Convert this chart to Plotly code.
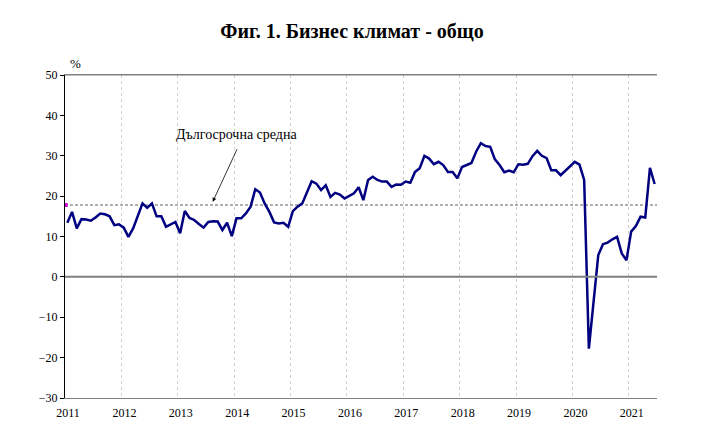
import plotly.graph_objects as go

start_year = 2011
values = [
    13.4, 16.1, 12.0, 14.3, 14.2, 13.9, 14.7, 15.7, 15.5, 15.0, 12.8, 13.0,
    12.2, 9.9, 12.0, 15.3, 18.2, 17.1, 18.2, 15.0, 15.0, 12.4, 13.0, 13.6,
    10.8, 16.3, 14.6, 14.1, 13.1, 12.2, 13.6, 13.8, 13.7, 11.6, 13.4, 10.1,
    14.5, 14.5, 15.7, 17.4, 21.7, 20.9, 18.2, 16.1, 13.5, 13.2, 13.4, 12.4,
    16.3, 17.4, 18.2, 20.8, 23.7, 23.1, 21.5, 22.7, 19.8, 20.8, 20.4, 19.4,
    20.0, 20.7, 22.2, 19.0, 24.0, 24.8, 24.0, 23.6, 23.6, 22.3, 22.9, 22.8,
    23.6, 23.3, 26.0, 26.9, 30.0, 29.3, 27.9, 28.5, 27.7, 26.0, 26.0, 24.4,
    27.2, 27.7, 28.2, 31.0, 33.1, 32.4, 32.2, 29.1, 27.7, 25.9, 26.3, 25.9,
    27.9, 27.8, 28.0, 29.9, 31.2, 30.0, 29.4, 26.4, 26.4, 25.2, 26.3, 27.2,
    28.5, 27.8, 24.0, -17.8, -6.6, 5.4, 8.1, 8.5, 9.3, 9.9, 5.8, 4.1,
    11.2, 12.6, 14.9, 14.7, 27.0, 23.0,
]
long_term_avg = 17.8
year_ticks = list(range(2011, 2022))
year_labels = [str(y) for y in year_ticks]
y_ticks = list(range(-30, 60, 10))

x_vals = [start_year + (i + 0.5) / 12 for i in range(len(values))]

# page body has an 8px margin; size the figure so the plot lands where the reference has it
W, H = 709, 439
OFF = 8

fig = go.Figure()
fig.add_trace(go.Scatter(
    x=[2011, 2021.5], y=[long_term_avg, long_term_avg], mode="lines",
    line=dict(color="#606060", width=1, dash="3px,2px"), hoverinfo="skip", showlegend=False))
fig.add_trace(go.Scatter(
    x=[x_vals[0] - 0.03], y=[long_term_avg], mode="markers",
    marker=dict(color="#cc00cc", size=4, symbol="square"), showlegend=False))
fig.add_trace(go.Scatter(
    x=x_vals, y=values, mode="lines",
    line=dict(color="#000080", width=2.5), showlegend=False))

fig.add_hline(y=0, line=dict(color="#7f7f7f", width=2))

fig.add_annotation(
    x=2013.62, y=long_term_avg + 0.8, ax=25, ay=-54, axref="pixel", ayref="pixel",
    showarrow=True, arrowhead=2, arrowsize=1, arrowwidth=0.8, arrowcolor="#000000",
    text="", xref="x", yref="y")
fig.add_annotation(
    x=(237 - 65) / 592, y=(398 - 134) / 323, xref="paper", yref="paper",
    xanchor="center", yanchor="middle", text="Дългосрочна средна",
    showarrow=False, font=dict(family="Liberation Serif", size=14, color="#000000"))

fig.update_layout(
    width=W, height=H,
    margin=dict(l=65 - OFF, r=60, t=75 - OFF, b=49),
    paper_bgcolor="white", plot_bgcolor="white",
    title=dict(text="<b>Фиг. 1. Бизнес климат - общо</b>", x=(352 - OFF) / W, xanchor="center",
               y=1 - (31 - OFF) / H, yanchor="middle",
               font=dict(family="Liberation Serif", size=20, color="#000000")),
    font=dict(family="Liberation Serif", size=12, color="#000000"),
    xaxis=dict(range=[2011, 2021.5], tickvals=year_ticks, ticktext=year_labels,
               showgrid=True, gridcolor="#d0d0d0", griddash="dot", gridwidth=1,
               showline=True, linecolor="#808080", linewidth=1, mirror=True,
               ticks="", zeroline=False, tickfont=dict(size=12),
               ticklabelstandoff=4, ticklabelshift=3),
    yaxis=dict(range=[-30, 50], tickvals=y_ticks, showgrid=False,
               showline=True, linecolor="#000000", linewidth=1,
               ticks="outside", ticklen=4, tickcolor="#000000",
               zeroline=False, tickfont=dict(size=12)),
)
fig.add_shape(type="line", xref="paper", yref="paper", x0=0, x1=1, y0=1, y1=1,
              line=dict(color="#808080", width=1))
fig.add_annotation(x=0.005, y=1, xref="paper", yref="paper", text="%",
                   showarrow=False, yanchor="bottom", xanchor="left", yshift=2,
                   font=dict(family="Liberation Serif", size=13, color="#000000"))

fig.write_html("out.html")
